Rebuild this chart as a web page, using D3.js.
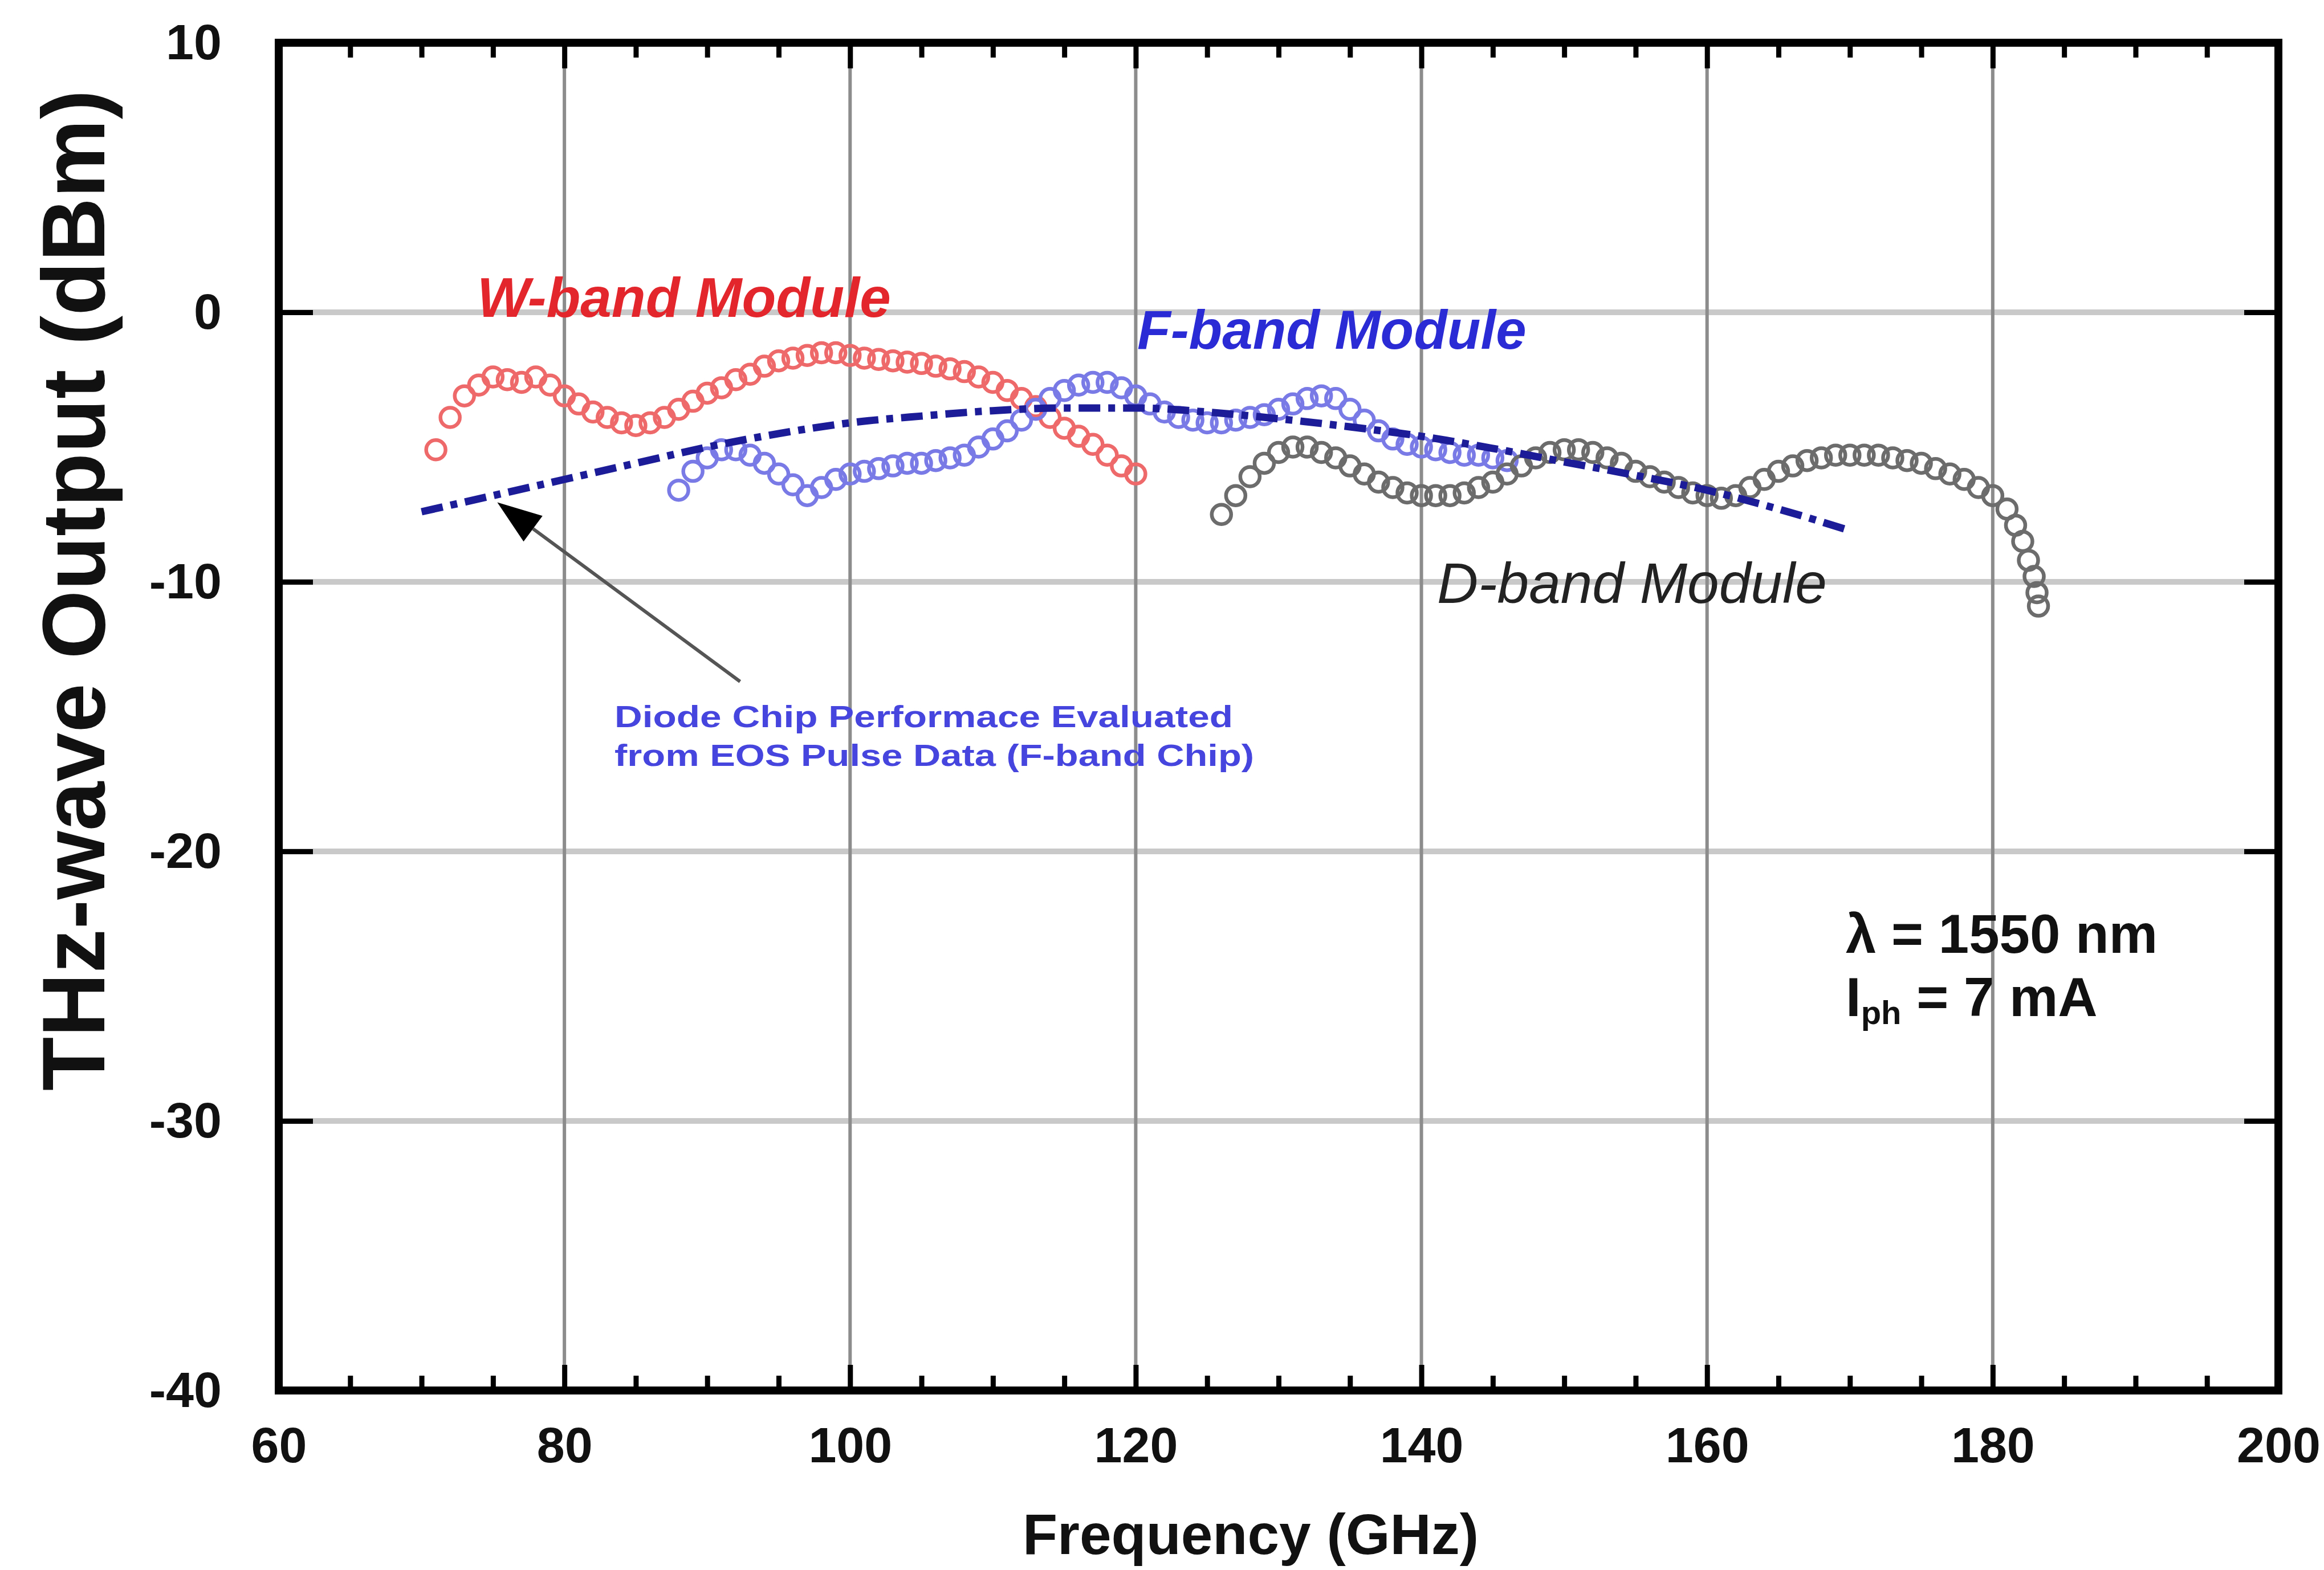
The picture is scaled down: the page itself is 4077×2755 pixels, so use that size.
<!DOCTYPE html>
<html>
<head>
<meta charset="utf-8">
<script src="https://cdn.jsdelivr.net/npm/d3@7"></script>
<style>
  body { margin: 0; background: #fff; }
  text { font-family: "Liberation Sans", Arial, sans-serif; }
</style>
</head>
<body>
<div id="container"></div>
<script>
// W-band module (red circles)
const wFreq = [71, 72, 73, 74, 75, 76, 77, 78, 79, 80, 81, 82, 83, 84, 85, 86, 87, 88, 89, 90,
  91, 92, 93, 94, 95, 96, 97, 98, 99, 100, 101, 102, 103, 104, 105, 106, 107, 108, 109, 110,
  111, 112, 113, 114, 115, 116, 117, 118, 119, 120];
const wPower = [-5.1, -3.9, -3.1, -2.7, -2.4, -2.5, -2.6, -2.4, -2.7, -3.1, -3.4, -3.7, -3.9, -4.1, -4.2, -4.1, -3.9, -3.6, -3.3, -3.0,
  -2.8, -2.5, -2.3, -2.0, -1.8, -1.7, -1.6, -1.5, -1.5, -1.6, -1.7, -1.75, -1.8, -1.85, -1.9, -2.0, -2.1, -2.2, -2.4, -2.6,
  -2.9, -3.2, -3.5, -3.9, -4.3, -4.6, -4.9, -5.3, -5.7, -6.0];

// F-band module (blue circles)
const fFreq = [88, 89, 90, 91, 92, 93, 94, 95, 96, 97, 98, 99, 100, 101, 102, 103, 104, 105, 106, 107,
  108, 109, 110, 111, 112, 113, 114, 115, 116, 117, 118, 119, 120, 121, 122, 123, 124, 125, 126, 127,
  128, 129, 130, 131, 132, 133, 134, 135, 136, 137, 138, 139, 140, 141, 142, 143, 144, 145, 146];
const fPower = [-6.6, -5.9, -5.4, -5.1, -5.1, -5.3, -5.6, -6.0, -6.4, -6.8, -6.5, -6.2, -6.0, -5.9, -5.8, -5.7, -5.6, -5.6, -5.5, -5.4,
  -5.3, -5.0, -4.7, -4.4, -4.0, -3.6, -3.2, -2.9, -2.7, -2.6, -2.6, -2.8, -3.1, -3.4, -3.7, -3.9, -4.0, -4.1, -4.1, -4.0,
  -3.9, -3.8, -3.6, -3.4, -3.2, -3.1, -3.2, -3.6, -4.0, -4.4, -4.7, -4.9, -5.0, -5.1, -5.2, -5.3, -5.3, -5.4, -5.5];

// D-band module (grey circles)
const dFreq = [126, 127, 128, 129, 130, 131, 132, 133, 134, 135, 136, 137, 138, 139, 140, 141, 142, 143, 144, 145,
  146, 147, 148, 149, 150, 151, 152, 153, 154, 155, 156, 157, 158, 159, 160, 161, 162, 163, 164, 165,
  166, 167, 168, 169, 170, 171, 172, 173, 174, 175, 176, 177, 178, 179, 180, 181, 181.6, 182.1, 182.5, 182.9,
  183.1, 183.2];
const dPower = [-7.5, -6.8, -6.1, -5.6, -5.2, -5.0, -5.0, -5.2, -5.4, -5.7, -6.0, -6.3, -6.5, -6.7, -6.8, -6.8, -6.8, -6.7, -6.5, -6.3,
  -6.0, -5.7, -5.4, -5.2, -5.1, -5.1, -5.2, -5.4, -5.6, -5.9, -6.1, -6.3, -6.5, -6.7, -6.8, -6.9, -6.8, -6.5, -6.2, -5.9,
  -5.7, -5.5, -5.4, -5.3, -5.3, -5.3, -5.3, -5.4, -5.5, -5.6, -5.8, -6.0, -6.2, -6.5, -6.8, -7.3, -7.9, -8.5, -9.2, -9.8,
  -10.4, -10.9];

// Diode chip performance from EOS pulse data (dashed line)
const chipFreq = [70, 75, 80, 85, 90, 95, 100, 105, 110, 115, 120, 125, 130, 135, 140, 145, 150, 155, 160, 165, 170];
const chipPower = [-7.4, -6.8, -6.2, -5.6, -5.0, -4.5, -4.1, -3.85, -3.65, -3.55, -3.55, -3.7, -3.95, -4.25, -4.6, -5.05, -5.55, -6.05, -6.6, -7.3, -8.1];

// axes
const xTicks = [60, 80, 100, 120, 140, 160, 180, 200];
const xMinor = [65, 70, 75, 85, 90, 95, 105, 110, 115, 125, 130, 135, 145, 150, 155, 165, 170, 175, 185, 190, 195];
const yTicks = [10, 0, -10, -20, -30, -40];
const xGrid = [80, 100, 120, 140, 160, 180];
const yGrid = [0, -10, -20, -30];

const width = 4077;
const height = 2755;
const plotLeft = 489, plotRight = 3997, plotTop = 75, plotBottom = 2440;

const x = d3.scaleLinear().domain([60, 200]).range([plotLeft, plotRight]);
const y = d3.scaleLinear().domain([-40, 10]).range([plotBottom, plotTop]);

const svg = d3.select("#container")
  .append("svg")
  .attr("width", width)
  .attr("height", height)
  .style("display", "block");

svg.append("rect").attr("width", width).attr("height", height).attr("fill", "#fff");

// grid
svg.append("g")
  .selectAll("line")
  .data(yGrid)
  .join("line")
  .attr("x1", plotLeft).attr("x2", plotRight)
  .attr("y1", (d) => y(d)).attr("y2", (d) => y(d))
  .attr("stroke", "#c9c9c9")
  .attr("stroke-width", 10);

svg.append("g")
  .selectAll("line")
  .data(xGrid)
  .join("line")
  .attr("x1", (d) => x(d)).attr("x2", (d) => x(d))
  .attr("y1", plotTop).attr("y2", plotBottom)
  .attr("stroke", "#8c8c8c")
  .attr("stroke-width", 6);

// axes with ticks pointing inward
function styleAxis(g) {
  g.select(".domain").remove();
  g.selectAll(".tick line").attr("stroke", "#000").attr("stroke-width", 9);
  g.selectAll(".tick text")
    .attr("fill", "#111")
    .style("font-size", "88px")
    .style("font-weight", "bold");
}

svg.append("g")
  .attr("transform", `translate(0,${plotBottom})`)
  .call(d3.axisBottom(x).tickValues(xTicks).tickSize(-45).tickPadding(64).tickFormat((d) => String(d)))
  .call(styleAxis);
svg.append("g")
  .attr("transform", `translate(0,${plotBottom})`)
  .call(d3.axisBottom(x).tickValues(xMinor).tickSize(-26).tickFormat(""))
  .call(styleAxis);
svg.append("g")
  .attr("transform", `translate(0,${plotTop})`)
  .call(d3.axisTop(x).tickValues(xTicks).tickSize(-45).tickFormat(""))
  .call(styleAxis);
svg.append("g")
  .attr("transform", `translate(0,${plotTop})`)
  .call(d3.axisTop(x).tickValues(xMinor).tickSize(-26).tickFormat(""))
  .call(styleAxis);
svg.append("g")
  .attr("transform", `translate(${plotLeft},0)`)
  .call(d3.axisLeft(y).tickValues(yTicks).tickSize(-60).tickPadding(100).tickFormat((d) => String(d)))
  .call(styleAxis);
svg.append("g")
  .attr("transform", `translate(${plotRight},0)`)
  .call(d3.axisRight(y).tickValues(yTicks).tickSize(-60).tickFormat(""))
  .call(styleAxis);

// series of open circles
const series = [
  { freq: wFreq, power: wPower, color: "#ee6a6a" },
  { freq: fFreq, power: fPower, color: "#7a7ae6" },
  { freq: dFreq, power: dPower, color: "#6c6c6c" },
];

series.forEach((s) => {
  svg.append("g")
    .selectAll("circle")
    .data(s.freq.map((f, i) => [f, s.power[i]]))
    .join("circle")
    .attr("cx", (d) => x(d[0]))
    .attr("cy", (d) => y(d[1]))
    .attr("r", 17)
    .attr("fill", "none")
    .attr("stroke", s.color)
    .attr("stroke-width", 6.5);
});

// chip performance dashed line
const line = d3.line()
  .x((d) => x(d[0]))
  .y((d) => y(d[1]))
  .curve(d3.curveMonotoneX);

svg.append("path")
  .datum(chipFreq.map((f, i) => [f, chipPower[i]]))
  .attr("d", line)
  .attr("fill", "none")
  .attr("stroke", "#1c1c98")
  .attr("stroke-width", 13)
  .attr("stroke-dasharray", "38,14,12,14");

// frame
svg.append("rect")
  .attr("x", plotLeft).attr("y", plotTop)
  .attr("width", plotRight - plotLeft).attr("height", plotBottom - plotTop)
  .attr("fill", "none")
  .attr("stroke", "#000")
  .attr("stroke-width", 14);

// arrow to the chip curve
const arrowFrom = [92.3, -13.7];
const arrowTo = [75.3, -7.05];
const ax1 = x(arrowFrom[0]), ay1 = y(arrowFrom[1]);
const ax2 = x(arrowTo[0]), ay2 = y(arrowTo[1]);
const len = Math.hypot(ax2 - ax1, ay2 - ay1);
const ux = (ax2 - ax1) / len, uy = (ay2 - ay1) / len;
const headLen = 78, headHalf = 28;
const bx = ax2 - ux * headLen, by = ay2 - uy * headLen;

svg.append("line")
  .attr("x1", ax1).attr("y1", ay1)
  .attr("x2", bx).attr("y2", by)
  .attr("stroke", "#555")
  .attr("stroke-width", 6);
svg.append("polygon")
  .attr("points", [
    [ax2, ay2],
    [bx - uy * headHalf, by + ux * headHalf],
    [bx + uy * headHalf, by - ux * headHalf],
  ].map((p) => p.join(",")).join(" "))
  .attr("fill", "#000");

// labels
svg.append("text")
  .attr("x", 837).attr("y", 556)
  .attr("fill", "#e3262c")
  .style("font-size", "98px").style("font-weight", "bold").style("font-style", "italic")
  .text("W-band Module");

svg.append("text")
  .attr("x", 1995).attr("y", 612)
  .attr("fill", "#2b2bd6")
  .style("font-size", "96px").style("font-weight", "bold").style("font-style", "italic")
  .text("F-band Module");

svg.append("text")
  .attr("x", 2521).attr("y", 1058)
  .attr("fill", "#222")
  .style("font-size", "100px").style("font-style", "italic")
  .text("D-band Module");

const note = svg.append("g")
  .attr("fill", "#4646de")
  .style("font-size", "54px")
  .style("font-weight", "bold");
note.append("text")
  .attr("x", 1078).attr("y", 1276)
  .attr("textLength", 1085).attr("lengthAdjust", "spacingAndGlyphs")
  .text("Diode Chip Performace Evaluated");
note.append("text")
  .attr("x", 1078).attr("y", 1344)
  .attr("textLength", 1122).attr("lengthAdjust", "spacingAndGlyphs")
  .text("from EOS Pulse Data (F-band Chip)");

const cond = svg.append("g")
  .attr("fill", "#111")
  .style("font-size", "96px")
  .style("font-weight", "bold");
cond.append("text")
  .attr("x", 3238).attr("y", 1672)
  .text("λ = 1550 nm");
const c2 = cond.append("text").attr("x", 3238).attr("y", 1783);
c2.append("tspan").text("I");
c2.append("tspan").attr("dy", 14).style("font-size", "58px").text("ph");
c2.append("tspan").attr("dy", -14).text(" = 7 mA");

// axis titles
svg.append("text")
  .attr("x", 2194).attr("y", 2727)
  .attr("text-anchor", "middle")
  .attr("fill", "#111")
  .style("font-size", "100px").style("font-weight", "bold")
  .text("Frequency (GHz)");

svg.append("text")
  .attr("transform", "translate(183,1036) rotate(-90)")
  .attr("text-anchor", "middle")
  .attr("fill", "#111")
  .style("font-size", "155px").style("font-weight", "bold")
  .text("THz-wave Output (dBm)");
</script>
</body>
</html>
